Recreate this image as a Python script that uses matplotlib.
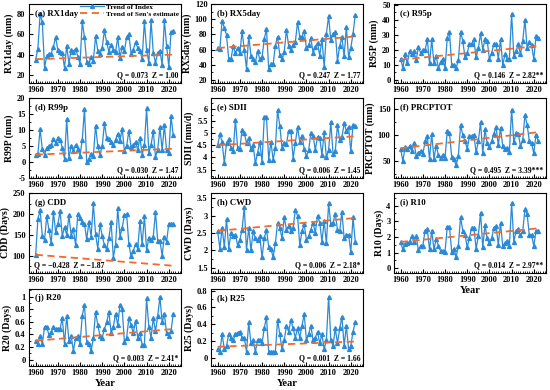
import numpy as np
from matplotlib import pyplot as plt
from matplotlib.ticker import MultipleLocator, FuncFormatter

plt.rcParams['font.family'] = ['Liberation Serif', 'DejaVu Serif']
plt.rcParams['font.weight'] = 'bold'

years = np.arange(1960, 2023)

rx1day = [35, 46, 80, 72, 27, 39, 41, 41, 48, 57,
          45, 43, 42, 27, 49, 31, 45, 43, 46, 38,
          31, 73, 57, 33, 31, 38, 34, 58, 44, 41,
          47, 64, 52, 43, 50, 45, 43, 57, 37, 48,
          44, 57, 60, 41, 45, 52, 47, 44, 36, 73,
          45, 32, 74, 42, 32, 42, 44, 30, 74, 49,
          28, 62, 63]
rx5day = [62, 61, 98, 89, 79, 47, 47, 65, 55, 62,
          55, 84, 60, 35, 78, 52, 48, 43, 58, 47,
          50, 74, 87, 35, 41, 41, 65, 77, 53, 47,
          57, 86, 65, 59, 66, 70, 96, 77, 77, 84,
          62, 66, 75, 56, 63, 69, 52, 74, 37, 81,
          104, 72, 81, 83, 45, 65, 76, 51, 90, 50,
          62, 81, 105]
r95p = [14, 8, 17, 11, 19, 17, 19, 13, 22, 18,
        20, 20, 27, 11, 27, 11, 16, 8, 12, 14,
        8, 28, 32, 10, 10, 8, 13, 32, 26, 15,
        18, 24, 24, 27, 15, 21, 31, 20, 27, 26,
        14, 18, 24, 24, 14, 27, 10, 17, 14, 14,
        44, 16, 19, 24, 17, 26, 40, 21, 25, 23,
        14, 29, 28]
r99p = [2.3, 2.5, 10.3, 4, 2.3, 4.5, 5, 5.2, 7.2, 6,
        7.4, 7, 4.5, 1, 13.4, 1.2, 5, 3.5, 5.3, 4.2,
        2, 7, 16.6, 0, 1, 2.5, 1.8, 11.4, 5, 2.3,
        5, 12.2, 7.4, 7.3, 6.3, 5.3, 7, 8.8, 6.7, 10.4,
        3.5, 5.1, 9.7, 4.7, 5.2, 6.3, 3.8, 7.6, 2.3, 5.2,
        16.8, 2.8, 5.3, 9.7, 1.7, 3.7, 10.9, 3.6, 11.6, 3.6,
        2.8, 14.3, 8.4]
sdii = [4.5, 4.95, 4.65, 3.75, 4.6, 4.75, 4.4, 4.25, 5.55, 4.4,
        4.35, 5.15, 5.0, 4.6, 4.8, 4.35, 4.5, 3.75, 4.2, 4.65,
        3.8, 5.65, 5.65, 3.9, 4.65, 3.9, 4.4, 5.95, 5.3, 4.4,
        4.6, 4.55, 5.1, 5.1, 3.95, 4.6, 5.25, 4.65, 4.9, 4.35,
        4.05, 4.3, 5.0, 4.9, 4.3, 4.85, 4.8, 4.1, 5.05, 4.0,
        4.3, 5.45, 4.15, 4.25, 5.35, 4.7, 4.85, 5.4, 5.1, 5.25,
        4.25, 5.35, 5.3]
prcptot = [74, 50, 77, 73, 79, 69, 85, 61, 65, 70,
           63, 88, 98, 54, 102, 55, 80, 62, 57, 62,
           57, 108, 104, 58, 55, 42, 60, 120, 100, 88,
           74, 98, 98, 100, 67, 88, 125, 65, 111, 84,
           78, 88, 103, 115, 81, 114, 79, 74, 76, 68,
           149, 86, 104, 103, 79, 90, 138, 120, 88, 84,
           65, 101, 88]
cdd = [101, 188, 211, 147, 138, 196, 161, 130, 205, 157,
       176, 207, 148, 168, 150, 197, 148, 163, 125, 201,
       190, 182, 177, 139, 181, 146, 226, 151, 117, 176,
       147, 125, 115, 143, 181, 95, 126, 214, 146, 167,
       197, 200, 127, 98, 112, 128, 117, 183, 127, 195,
       113, 143, 137, 146, 205, 136, 136, 100, 146, 133,
       177, 176, 176]
cwd = [2.55, 2.05, 2.65, 2.1, 2.9, 2.05, 2.5, 2.4, 2.45, 2.15,
       2.3, 2.6, 3.25, 2.0, 2.65, 2.0, 2.55, 2.35, 2.3, 2.4,
       1.8, 2.35, 2.6, 2.1, 2.05, 1.8, 2.2, 2.8, 2.65, 2.35,
       2.95, 2.6, 2.7, 2.55, 2.65, 3.15, 3.0, 2.15, 2.55, 2.75,
       2.3, 2.4, 2.6, 2.8, 2.5, 3.0, 2.8, 2.25, 2.85, 2.2,
       3.35, 2.75, 2.8, 3.05, 2.6, 2.55, 3.1, 2.35, 2.45, 2.45,
       1.95, 2.95, 2.25]
r10 = [1.65, 1.2, 1.55, 1.6, 1.7, 2.05, 1.7, 2.05, 1.15, 1.45,
       1.45, 2.4, 2.5, 1.2, 2.4, 1.2, 1.85, 1.45, 1.1, 1.1,
       1.05, 2.65, 2.65, 1.05, 1.25, 0.7, 1.45, 3.25, 2.4, 2.15,
       1.35, 1.95, 2.6, 2.6, 1.25, 2.05, 3.55, 1.35, 2.75, 1.9,
       1.6, 1.9, 2.6, 2.7, 1.5, 2.9, 1.4, 1.6, 1.75, 1.4,
       4.15, 1.7, 2.35, 2.5, 2.1, 2.35, 3.75, 3.45, 2.1, 2.15,
       1.4, 2.4, 2.4]
r20 = [0.3, 0.25, 0.38, 0.25, 0.52, 0.52, 0.39, 0.44, 0.52, 0.49,
       0.49, 0.49, 0.66, 0.25, 0.7, 0.29, 0.38, 0.14, 0.34, 0.38,
       0.25, 0.7, 0.87, 0.28, 0.25, 0.14, 0.34, 0.76, 0.55, 0.38,
       0.35, 0.49, 0.59, 0.76, 0.42, 0.52, 0.73, 0.55, 0.87, 0.8,
       0.28, 0.35, 0.66, 0.55, 0.42, 0.62, 0.35, 0.42, 0.24, 0.24,
       0.97, 0.52, 0.35, 0.66, 0.45, 0.69, 1.0, 0.59, 0.73, 0.42,
       0.38, 0.45, 0.73]
r25 = [0.1, 0.07, 0.28, 0.1, 0.14, 0.28, 0.24, 0.21, 0.28, 0.3,
       0.31, 0.24, 0.24, 0.07, 0.42, 0.17, 0.21, 0.07, 0.21, 0.21,
       0.17, 0.35, 0.49, 0.07, 0.07, 0.07, 0.07, 0.45, 0.28, 0.1,
       0.21, 0.38, 0.31, 0.45, 0.35, 0.24, 0.35, 0.24, 0.38, 0.52,
       0.21, 0.28, 0.38, 0.21, 0.24, 0.31, 0.17, 0.28, 0.1, 0.21,
       0.73, 0.21, 0.14, 0.35, 0.17, 0.35, 0.49, 0.14, 0.38, 0.1,
       0.14, 0.31, 0.42]

series = [rx1day, rx5day, r95p, r99p, sdii, prcptot, cdd, cwd, r10, r20, r25]
titles = ['(a) RX1day', '(b) RX5day', '(c) R95p', '(d) R99p', '(e) SDII', '(f) PRCPTOT',
          '(g) CDD', '(h) CWD', '(i) R10', '(j) R20', '(k) R25']
ylabels = ['RX1day (mm)', 'RX5day (mm)', 'R95P (mm)', 'R99P (mm)', 'SDII (mm/d)',
           'PRCPTOT (mm)', 'CDD (Days)', 'CWD (Days)', 'R10 (Days)', 'R20 (Days)', 'R25 (Days)']
sen_q = [0.073, 0.247, 0.146, 0.030, 0.006, 0.495, -0.428, 0.006, 0.014, 0.003, 0.001]
sen_b = [35.5, 62, 13.5, 2.3, 4.5, 75, 102, 2.56, 1.68, 0.3, 0.13]
z_text = ['1.00', '1.77', '2.82**', '1.47', '1.45', '3.39***', '\u22121.87',
          '2.18*', '2.97**', '2.41*', '1.66']
ylims = [(12, 90), (16, 120), (-2, 50.5), (-5, 20), (3.15, 6.45), (18, 171),
         (58, 251), (1.35, 3.65), (-0.3, 4.8), (-0.1, 1.12), (-0.1, 0.82)]
ysteps = [20, 20, 10, 5, 0.5, 50, 50, 0.5, 1, 0.2, 0.2]

W, H = 550, 390
col_left = [29, 211, 394]
row_span = [(4, 83), (98, 178), (193, 273), (289, 366)]
ax_w = 152

fig = plt.figure(figsize=(5.5, 3.9), dpi=100)
blue = '#2a8ad6'
orange = '#f26a2c'

for i, vals in enumerate(series):
    r, c = divmod(i, 3)
    top, bot = row_span[r]
    ax = fig.add_axes([col_left[c] / W, 1 - bot / H, ax_w / W, (bot - top) / H])
    l1, = ax.plot(years, vals, color=blue, lw=0.9, marker='^', ms=2.8,
                  label='Trend of Index')
    trend = sen_b[i] + sen_q[i] * (years - years[0])
    l2, = ax.plot(years, trend, color=orange, lw=1.3, ls=(0, (4, 2.5)),
                  label="Trend of Sen's estimate")
    ax.set_xlim(1957, 2025.5)
    ax.set_ylim(*ylims[i])
    ax.xaxis.set_major_locator(MultipleLocator(10))
    ax.xaxis.set_minor_locator(MultipleLocator(1))
    ax.yaxis.set_major_locator(MultipleLocator(ysteps[i]))
    ax.yaxis.set_minor_locator(MultipleLocator(ysteps[i] / 2))
    ax.yaxis.set_major_formatter(FuncFormatter(lambda v, p: f'{v:g}'))
    ax.tick_params(which='both', direction='in', labelsize=6, pad=2.5)
    ax.tick_params(which='major', length=3, width=0.8)
    ax.tick_params(which='minor', length=1.5, width=0.6)
    for sp in ax.spines.values():
        sp.set_linewidth(0.8)
    ax.set_ylabel(ylabels[i], fontsize=7, fontweight='bold', labelpad=2)
    ax.text(0.04, 0.93, titles[i], transform=ax.transAxes, fontsize=6.3,
            fontweight='bold', va='top', ha='left')
    q = f'{sen_q[i]:.3f}'.replace('-', '\u2212')
    stat = f'Q = {q}  Z = {z_text[i]}'
    if i == 6:
        ax.text(0.03, 0.05, stat, transform=ax.transAxes, fontsize=5.5,
                fontweight='bold', va='bottom', ha='left')
    else:
        ax.text(0.985, 0.05, stat, transform=ax.transAxes, fontsize=5.5,
                fontweight='bold', va='bottom', ha='right')
    if i in (8, 9, 10):
        ax.set_xlabel('Year', fontsize=7.5, fontweight='bold', labelpad=1)
    if i == 0:
        ax.legend(handles=[l1, l2], loc='upper right', bbox_to_anchor=(1.0, 1.03),
                  frameon=False, handlelength=3.2, borderaxespad=0.1,
                  labelspacing=0.05, handletextpad=0.3, borderpad=0.2,
                  prop={'weight': 'bold', 'size': 5.3})

fig.savefig('out.png', dpi=100)
